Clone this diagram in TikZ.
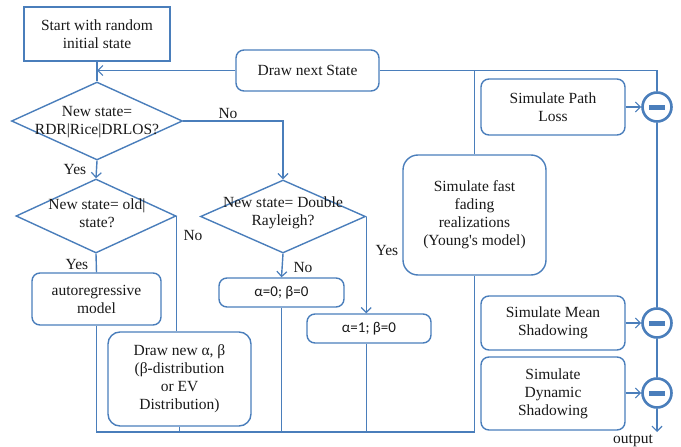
\documentclass[tikz,border=0pt]{standalone}
\usepackage{fontspec}
\setmainfont{Liberation Serif}
\newfontfamily\greekbox{Carlito}
\usetikzlibrary{shapes.geometric,arrows.meta}
\definecolor{lc}{RGB}{74,126,187}
\definecolor{tc}{RGB}{25,25,25}
\begin{document}
\begin{tikzpicture}[x=1pt,y=-1pt,
  font=\fontsize{15.5}{18}\selectfont, text=tc,
  conn/.style={draw=lc, line width=1.4pt},
  arr/.style={conn, -{Straight Barb[length=5pt,width=10pt,line width=1.2pt]}},
  sbox/.style={draw=lc, line width=1.4pt, rounded corners=8pt, align=center, inner sep=0pt},
  dia/.style={draw=lc, line width=1.4pt, diamond, inner sep=0pt},
  lbl/.style={inner sep=0pt},
  minus/.style={circle, draw=lc, line width=2.6pt, minimum size=29pt, inner sep=0pt, fill=white,
    path picture={\fill[lc] ([xshift=-8pt,yshift=-2.5pt]path picture bounding box.center) rectangle ([xshift=8pt,yshift=2.5pt]path picture bounding box.center);}}
]
\useasboundingbox (0,0) rectangle (681,447);

% boxes
\node[draw=lc, line width=2.4pt, align=center, inner sep=0pt, minimum width=146pt, minimum height=54pt] (start) at (97,34) {Start with random\\initial state};
\node[sbox, minimum width=143pt, minimum height=41pt] (next) at (307.5,70.5) {Draw next State};

\node[dia, minimum width=171pt, minimum height=78pt] (d1) at (97,121) {};
\node[lbl, align=center] (d1t) at (97,122) {New state=\\RDR|Rice|DRLOS?};

\node[dia, minimum width=160pt, minimum height=74pt] (d2) at (96,216) {};
\node[lbl, align=center] (d2t) at (97,213) {New state= old|\\state?};

\node[dia, minimum width=165pt, minimum height=73pt] (d3) at (283,216.5) {};
\node[lbl, align=center] (d3t) at (283,213) {New state= Double\\Rayleigh?};

\node[sbox, minimum width=129pt, minimum height=52pt] (ar) at (96.5,299) {autoregressive\\model};
\node[sbox, rounded corners=12pt, minimum width=143pt, minimum height=94pt] (dn) at (179.5,379) {Draw new α, β\\(β-distribution\\or EV\\Distribution)};
\node[sbox, minimum width=125pt, minimum height=29pt, font=\greekbox\fontsize{15}{18}\selectfont] (a0) at (281.5,292.5) {α=0; β=0};
\node[sbox, minimum width=124pt, minimum height=29pt, font=\greekbox\fontsize{15}{18}\selectfont] (a1) at (369,328.5) {α=1; β=0};

\node[sbox, rounded corners=15pt, minimum width=143pt, minimum height=120pt] (ff) at (474.5,215) {Simulate fast\\fading\\realizations\\(Young\textquotesingle s model)};

\node[sbox, minimum width=144pt, minimum height=56pt] (pl) at (553,107) {Simulate Path\\Loss};
\node[sbox, minimum width=144pt, minimum height=54pt] (ms) at (553,323) {Simulate Mean\\Shadowing};
\node[sbox, minimum width=144pt, minimum height=73pt] (ds) at (553,393.5) {Simulate\\Dynamic\\Shadowing};

\node[minus] (c1) at (657,107) {};
\node[minus] (c2) at (657,323) {};
\node[minus] (c3) at (657,393) {};

% labels
\node[lbl] (y1) at (75,170) {Yes};
\node[lbl] (n1) at (228,114) {No};
\node[lbl] (y2) at (77,264) {Yes};
\node[lbl] (n2) at (193,235) {No};
\node[lbl] (n3) at (303,267) {No};
\node[lbl] (y3) at (387,250) {Yes};
\node[lbl] (out) at (633,441) {output};

% coordinates
\coordinate (bl) at (96.5,432);
\coordinate (br) at (474.5,432);
\coordinate (top) at (474.5,70.5);
\coordinate (cout) at (657,432);

% connectors
\draw[conn] (start.south) -- (d1.north);
\draw[arr] (next.west) -- (start.south |- next.west);
\draw[conn] (ff.north) -- (top);
\draw[conn] (next.east) -| (c1.north);
\draw[arr] (d1.south) -- (d2.north);
\draw[arr] (d1.east) -| (d3.north);
\draw[conn] (d2.south) -- (ar.north);
\draw[conn] (d2.east) -- (d2.east |- dn.north);
\draw[arr] (d3.south) -- (a0.north);
\draw[arr] (d3.east) -- (d3.east |- a1.north);
\draw[conn] (ar.south) -- (bl) -- (br) -- (ff.south);
\draw[conn] (dn.south) -- (dn.south |- bl);
\draw[conn] (a0.south) -- (a0.south |- bl);
\draw[conn] (d3.east |- a1.south) -- (d3.east |- bl);
\draw[arr] (pl.east) -- (c1.west);
\draw[arr] (ms.east) -- (c2.west);
\draw[arr] (ds.east |- c3.west) -- (c3.west);
\draw[conn] (c1.south) -- (c2.north);
\draw[conn] (c2.south) -- (c3.north);
\draw[arr] (c3.south) -- (cout);
\end{tikzpicture}
\end{document}
